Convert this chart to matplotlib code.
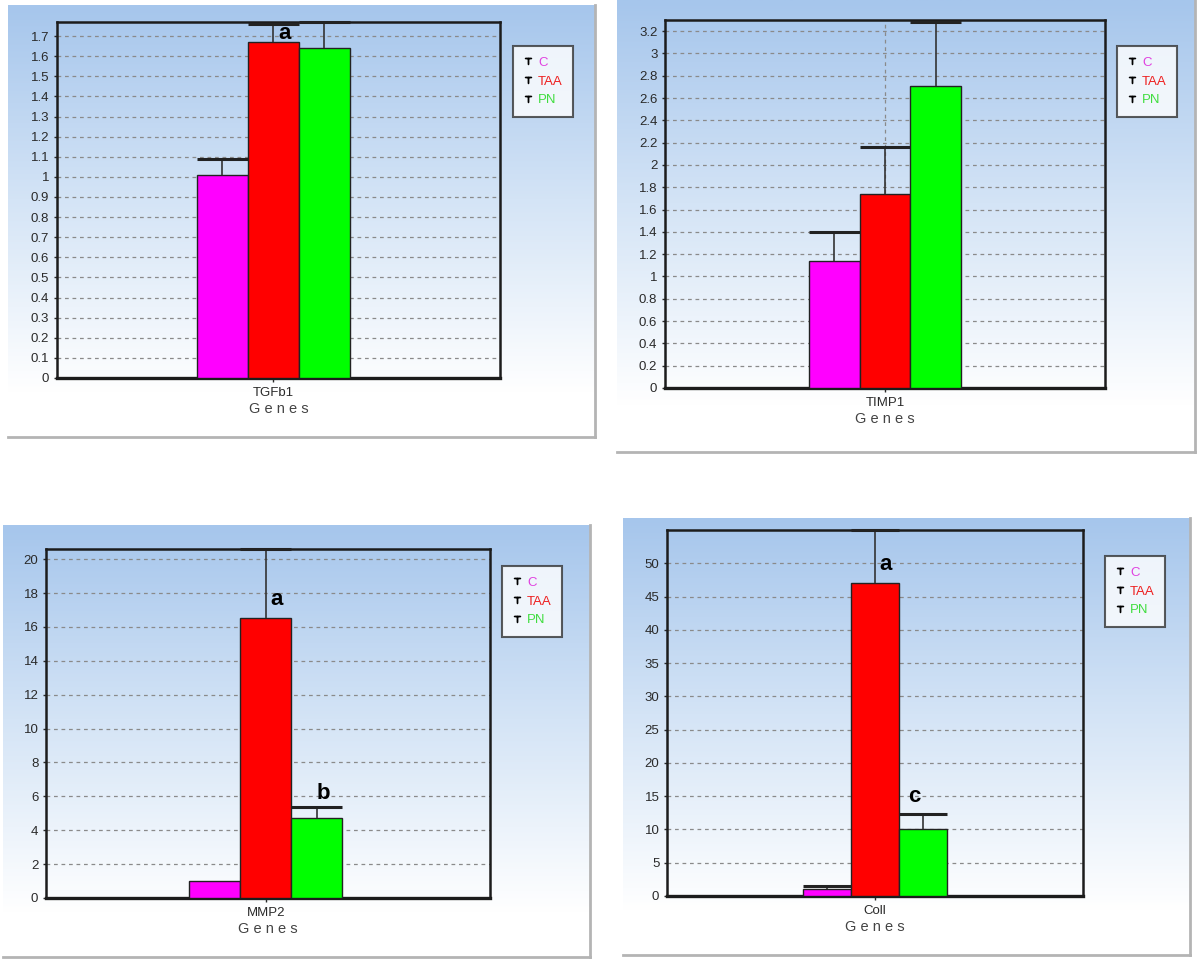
import numpy as np
import matplotlib.pyplot as plt
from matplotlib.colors import LinearSegmentedColormap
from matplotlib.lines import Line2D

plt.rcParams['font.family'] = ['Liberation Sans', 'DejaVu Sans']

groups = ['C', 'TAA', 'PN']
bar_colors = ['#ff00ff', '#ff0000', '#00ff00']
text_colors = ['#e040e0', '#ee2020', '#40dd40']

genes = ['TGFb1', 'TIMP1', 'MMP2', 'Coll']
# mean values and top of error bar
means_tgfb1 = [1.01, 1.67, 1.64]
tops_tgfb1 = [1.09, 1.76, 1.77]
means_timp1 = [1.14, 1.74, 2.71]
tops_timp1 = [1.40, 2.16, 3.28]
means_mmp2 = [1.0, 16.5, 4.75]
tops_mmp2 = [1.0, 20.6, 5.35]
means_coll = [1.0, 47.0, 10.0]
tops_coll = [1.5, 55.0, 12.3]

ylims = [1.77, 3.3, 20.6, 55.0]
ysteps = [0.1, 0.2, 2, 5]
yticks_max = [1.7, 3.2, 20, 50]
# letters: (group index, x offset, y)
letters_tgfb1 = [(1, 0.05, 1.715, 'a')]
letters_timp1 = []
letters_mmp2 = [(1, 0.05, 17.6, 'a'), (2, 0.03, 6.15, 'b')]
letters_coll = [(1, 0.05, 49.8, 'a'), (2, -0.04, 14.9, 'c')]

W, H = 1200, 959
fig = plt.figure(figsize=(W / 100, H / 100), dpi=100)
fig.patch.set_facecolor('white')

def px(x0, y0, x1, y1):
    return [x0 / W, 1 - y1 / H, (x1 - x0) / W, (y1 - y0) / H]

# background box, axes box, legend box (pixels), x shift of category
layout = [
    ((8, 5, 595, 437), (57, 22, 500, 378), (513, 46, 572, 120), 0.023),
    ((617, 0, 1195, 452), (665, 20, 1105, 388), (1117, 46, 1176, 120), 0.0),
    ((3, 525, 590, 957), (46, 549, 490, 898), (502, 566, 561, 640), 0.01),
    ((623, 518, 1190, 955), (667, 530, 1083, 896), (1105, 556, 1164, 630), 0.0),
]

grad = LinearSegmentedColormap.from_list('bg', ['#a6c6ec', '#d4e4f6', '#ffffff'])
bw = 0.23
offs = np.array([-1, 0, 1]) * bw

data = [
    (means_tgfb1, tops_tgfb1, letters_tgfb1),
    (means_timp1, tops_timp1, letters_timp1),
    (means_mmp2, tops_mmp2, letters_mmp2),
    (means_coll, tops_coll, letters_coll),
]

for k in range(4):
    bgbox, axbox, legbox, shift = layout[k]
    means, tops, letters = data[k]

    bg = fig.add_axes(px(*bgbox))
    g = np.linspace(0, 1, 256).reshape(-1, 1)
    bg.imshow(g, aspect='auto', cmap=grad, extent=[0, 1, 0, 1], vmin=0, vmax=0.9)
    bg.set_xlim(0, 1)
    bg.set_ylim(0, 1)
    bg.set_xticks([])
    bg.set_yticks([])
    for s in ['top', 'left']:
        bg.spines[s].set_visible(False)
    for s in ['right', 'bottom']:
        bg.spines[s].set_color('#b4b4b4')
        bg.spines[s].set_linewidth(2)

    ax = fig.add_axes(px(*axbox))
    ax.patch.set_alpha(0)
    ax.set_xlim(-1 + shift, 1 + shift)
    ax.set_ylim(0, ylims[k])
    yt = np.arange(0, yticks_max[k] + ysteps[k] / 2, ysteps[k])
    ax.set_yticks(yt)
    ax.set_yticklabels(['%g' % round(v, 2) for v in yt])
    ax.yaxis.grid(True, linestyle=(0, (3, 3)), color='#8a8a8a', linewidth=0.9)
    if k == 1:
        ax.xaxis.grid(True, linestyle=(0, (3, 3)), color='#8a8a8a', linewidth=0.9)
    ax.set_axisbelow(True)
    ax.set_xticks([0])
    ax.set_xticklabels([genes[k]])
    ax.tick_params(axis='both', labelsize=9.5, colors='#2a2a2a', length=3, width=1)
    ax.tick_params(axis='y', length=2)
    for s in ax.spines.values():
        s.set_color('#1c1c1c')
        s.set_linewidth(1.8)
    ax.spines['bottom'].set_linewidth(2.4)
    ax.set_xlabel('G e n e s', fontsize=10.5, color='#444444', labelpad=2)

    ax.bar(offs, means, width=bw, color=bar_colors, edgecolor='#222222',
           linewidth=1, zorder=3)
    tops_arr = np.array(tops)
    means_arr = np.array(means)
    has_err = tops_arr > means_arr
    ax.vlines(offs[has_err], means_arr[has_err], tops_arr[has_err], color='#333333',
              linewidth=1.2, zorder=4, clip_on=False)
    ax.hlines(tops_arr[has_err], offs[has_err] - bw / 2, offs[has_err] + bw / 2,
              color='#222222', linewidth=2.2, zorder=4, clip_on=False)

    for gi, dx, yv, t in letters:
        ax.text(offs[gi] + dx, yv, t, fontsize=16, fontweight='bold',
                ha='center', va='center', color='black', zorder=5)

    handles = [Line2D([], [], linestyle='none', marker=r'$\top$', color='black',
                      markersize=5) for _ in groups]
    lx0, ly0, lx1, ly1 = legbox
    leg = fig.legend(handles, groups, loc='upper left',
                     bbox_to_anchor=(lx0 / W, 1 - ly0 / H), bbox_transform=fig.transFigure,
                     fontsize=9.5, labelcolor=text_colors, frameon=True, fancybox=False,
                     handlelength=0.7, handletextpad=0.4, borderpad=0.8,
                     labelspacing=0.5, borderaxespad=0)
    leg.get_frame().set_edgecolor('#333333')
    leg.get_frame().set_linewidth(1.5)
    leg.get_frame().set_facecolor('white')

fig.savefig('out.png', dpi=100)
